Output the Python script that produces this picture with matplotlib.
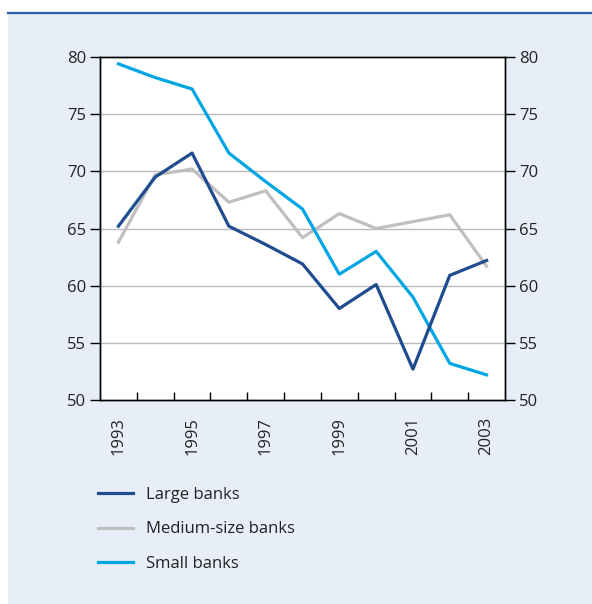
import matplotlib
matplotlib.use("Agg")
import matplotlib.pyplot as plt
from matplotlib.patches import Rectangle
from matplotlib.lines import Line2D

plt.rcParams['font.family'] = ['Open Sans', 'DejaVu Sans']

years = ['1993', '1994', '1995', '1996', '1997', '1998',
         '1999', '2000', '2001', '2002', '2003']
large = [65.2, 69.5, 71.6, 65.2, 63.6, 61.9, 58.0, 60.1, 52.7, 60.9, 62.2]
medium = [63.8, 69.7, 70.2, 67.3, 68.3, 64.2, 66.3, 65.0, 65.6, 66.2, 61.7]
small = [79.4, 78.2, 77.2, 71.6, 69.1, 66.7, 61.0, 63.0, 59.0, 53.2, 52.2]
y_ticks = [50, 55, 60, 65, 70, 75, 80]

bg = '#e8eef7'
txt = '#222222'

fig = plt.figure(figsize=(5.92, 6.04), dpi=100, facecolor='white')

# panel behind the chart, with the rule on top
fig.patches.append(Rectangle((8/592, 0), 1 - 8/592, 1 - 13/604,
                             transform=fig.transFigure, facecolor=bg,
                             edgecolor='none', zorder=-5))
fig.lines.append(Line2D([8/592, 1], [1 - 13/604, 1 - 13/604],
                        transform=fig.transFigure, color='#2b5ca8', lw=1.6,
                        zorder=-4))

ax = fig.add_axes([100/592, 1 - 400/604, 405/592, 343/604])
ax.set_facecolor('white')

x = list(range(len(years)))
ax.plot(x, medium, color='#bfbfbf', lw=2.3, label='Medium-size banks', zorder=3)
ax.plot(x, small, color='#00a5e3', lw=2.3, label='Small banks', zorder=4)
ax.plot(x, large, color='#1f4c8f', lw=2.3, label='Large banks', zorder=5)

ax.set_xlim(-0.5, len(years) - 0.5)
ax.set_ylim(50, 80)
ax.set_yticks(y_ticks)
for v in y_ticks[1:-1]:
    ax.axhline(v, color='#bbbbbb', lw=1.0, zorder=1)

# ticks between years, labels on every other year
ax.set_xticks([i + 0.5 for i in x[:-1]])
ax.set_xticklabels([])
ax.tick_params(axis='x', which='major', direction='in', length=6, width=1.0, color='black')
ax.set_xticks(x[::2], minor=True)
ax.set_xticklabels(years[::2], minor=True, rotation=90)
ax.tick_params(axis='x', which='minor', length=0, pad=12, labelsize=12, labelcolor=txt)

ax.tick_params(axis='y', direction='out', length=7, width=1.0, pad=3,
               labelsize=12, labelcolor=txt)

ax2 = ax.twinx()
ax2.set_ylim(50, 80)
ax2.set_yticks(y_ticks)
ax2.tick_params(axis='y', direction='out', length=7, width=1.0, pad=3,
                labelsize=12, labelcolor=txt)

for a in (ax, ax2):
    for s in a.spines.values():
        s.set_color('black')
        s.set_linewidth(1.0)

handles, labels = ax.get_legend_handles_labels()
order = [2, 0, 1]
fig.legend([handles[i] for i in order], [labels[i] for i in order],
           loc='upper left', bbox_to_anchor=(83/592, 1 - 472/604),
           frameon=False, fontsize=12, handlelength=2.1, handletextpad=0.8,
           labelspacing=1.1, labelcolor=txt)

fig.savefig('out.png', dpi=100, facecolor=fig.get_facecolor())
